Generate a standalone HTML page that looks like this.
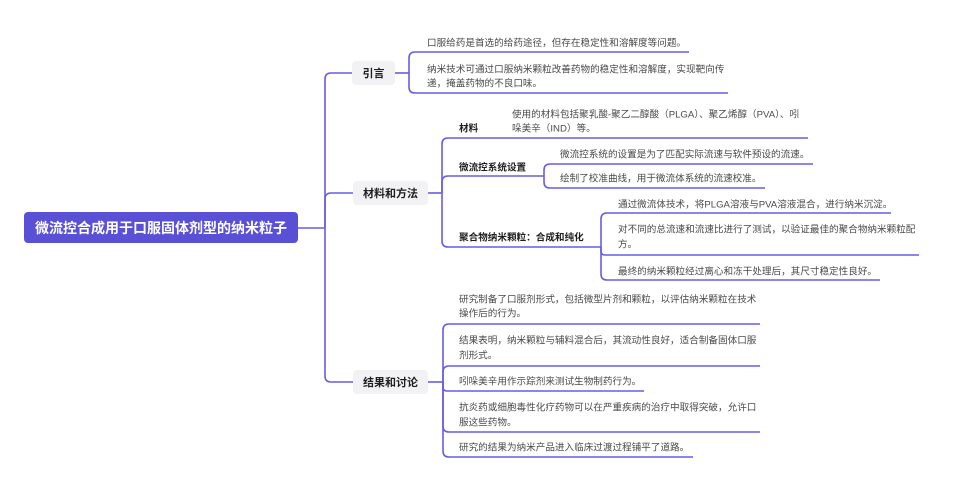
<!DOCTYPE html>
<html>
<head>
<meta charset="utf-8">
<style>
  html,body{margin:0;padding:0;background:#fff;}
  svg{display:block;}
  .t{font-family:"Liberation Sans","Noto Sans CJK SC",sans-serif;font-size:9.6px;fill:#4a4a4a;}
  .l{font-family:"Liberation Sans","Noto Sans CJK SC",sans-serif;font-size:9.6px;font-weight:bold;fill:#1e1e1e;}
  .b{font-family:"Liberation Sans","Noto Sans CJK SC",sans-serif;font-size:11px;font-weight:bold;fill:#1e1e1e;}
  .r{font-family:"Liberation Sans","Noto Sans CJK SC",sans-serif;font-size:14px;font-weight:bold;fill:#ffffff;}
  path{fill:none;stroke:#665de4;stroke-width:1.6;}
</style>
</head>
<body>
<svg width="955" height="490" viewBox="0 0 955 490" xmlns="http://www.w3.org/2000/svg">
  <!-- connectors -->
  <path d="M298 228 H325"/>
  <path d="M325 228 V79 Q325 73 331 73 H353"/>
  <path d="M325 228 V199 Q325 193 331 193 H353"/>
  <path d="M325 228 V376 Q325 382 331 382 H353"/>

  <!-- 引言 -->
  <path d="M395 73 H409"/>
  <path d="M409 73 V58 Q409 52 415 52 H689"/>
  <path d="M409 73 V87 Q409 93 415 93 H728"/>

  <!-- 材料和方法 -->
  <path d="M428 193 H442"/>
  <path d="M442 193 V144 Q442 138 448 138 H808"/>
  <path d="M442 193 V182 Q442 176 448 176 H544"/>
  <path d="M442 193 V241 Q442 247 448 247 H601"/>

  <path d="M544 176 V170 Q544 164 550 164 H813"/>
  <path d="M544 176 V182 Q544 188 550 188 H765"/>

  <path d="M601 247 V219 Q601 213 607 213 H891"/>
  <path d="M601 247 V251 Q601 255 605 255 H919"/>
  <path d="M601 247 V274 Q601 280 607 280 H880"/>

  <!-- 结果和讨论 -->
  <path d="M428 382 H443"/>
  <path d="M443 382 V330 Q443 324 449 324 H760"/>
  <path d="M443 382 V372 Q443 366 449 366 H760"/>
  <path d="M443 382 V387 Q443 391 447 391 H644"/>
  <path d="M443 382 V426 Q443 432 449 432 H760"/>
  <path d="M443 382 V451 Q443 457 449 457 H693"/>

  <!-- root -->
  <rect x="24" y="212" width="274" height="31" rx="4" ry="4" fill="#5a50d6"/>
  <text class="r" x="161" y="233" text-anchor="middle">微流控合成用于口服固体剂型的纳米粒子</text>

  <!-- main branches -->
  <rect x="352" y="61" width="43" height="24" rx="4" fill="#f2f2f4"/>
  <text class="b" x="373.5" y="77" text-anchor="middle">引言</text>

  <rect x="353" y="181" width="75" height="24" rx="4" fill="#f2f2f4"/>
  <text class="b" x="390.5" y="197" text-anchor="middle">材料和方法</text>

  <rect x="353" y="370" width="75" height="24" rx="4" fill="#f2f2f4"/>
  <text class="b" x="390.5" y="386" text-anchor="middle">结果和讨论</text>

  <!-- 引言 children -->
  <text class="t" x="427" y="46">口服给药是首选的给药途径，但存在稳定性和溶解度等问题。</text>
  <text class="t" x="427" y="72.5">纳米技术可通过口服纳米颗粒改善药物的稳定性和溶解度，实现靶向传</text>
  <text class="t" x="427" y="86.5">递，掩盖药物的不良口味。</text>

  <!-- 材料和方法 children -->
  <text class="l" x="459" y="131.5">材料</text>
  <text class="t" x="512" y="117.5">使用的材料包括聚乳酸-聚乙二醇酸（PLGA）、聚乙烯醇（PVA）、吲</text>
  <text class="t" x="512" y="131.5">哚美辛（IND）等。</text>

  <text class="l" x="459" y="170.5">微流控系统设置</text>
  <text class="t" x="560" y="157.5">微流控系统的设置是为了匹配实际流速与软件预设的流速。</text>
  <text class="t" x="560" y="181.5">绘制了校准曲线，用于微流体系统的流速校准。</text>

  <text class="l" x="459" y="240.5">聚合物纳米颗粒：合成和纯化</text>
  <text class="t" x="618" y="207.5">通过微流体技术，将PLGA溶液与PVA溶液混合，进行纳米沉淀。</text>
  <text class="t" x="618" y="232.5">对不同的总流速和流速比进行了测试，以验证最佳的聚合物纳米颗粒配</text>
  <text class="t" x="618" y="247.5">方。</text>
  <text class="t" x="618" y="274.5">最终的纳米颗粒经过离心和冻干处理后，其尺寸稳定性良好。</text>

  <!-- 结果和讨论 children -->
  <text class="t" x="459" y="302.5">研究制备了口服剂形式，包括微型片剂和颗粒，以评估纳米颗粒在技术</text>
  <text class="t" x="459" y="316.5">操作后的行为。</text>
  <text class="t" x="459" y="343.5">结果表明，纳米颗粒与辅料混合后，其流动性良好，适合制备固体口服</text>
  <text class="t" x="459" y="358.5">剂形式。</text>
  <text class="t" x="459" y="384.5">吲哚美辛用作示踪剂来测试生物制药行为。</text>
  <text class="t" x="459" y="410.5">抗炎药或细胞毒性化疗药物可以在严重疾病的治疗中取得突破，允许口</text>
  <text class="t" x="459" y="425.5">服这些药物。</text>
  <text class="t" x="459" y="450.5">研究的结果为纳米产品进入临床过渡过程铺平了道路。</text>
</svg>
</body>
</html>
